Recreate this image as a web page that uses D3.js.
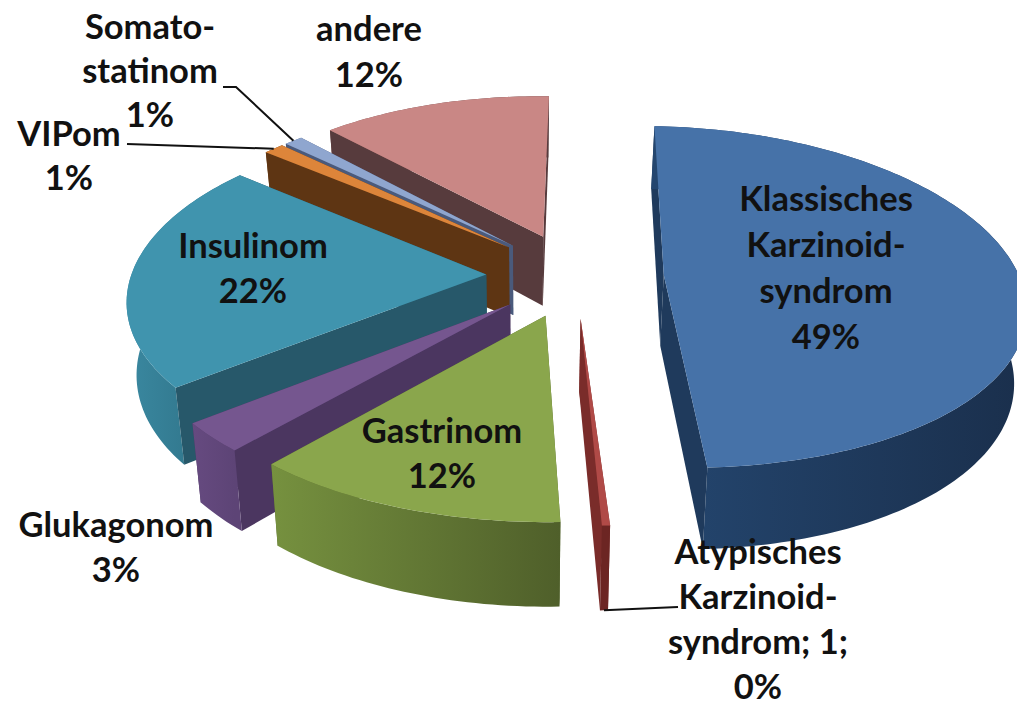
<!DOCTYPE html>
<html>

<head>
  <meta charset='utf-8'>
  <title>Neuroendokrine Tumoren</title>
  <script src="https://cdnjs.cloudflare.com/ajax/libs/d3/7.8.5/d3.min.js"></script>
  <style>
    html, body { margin: 0; padding: 0; background: #fff; overflow: hidden; }
    text { font-family: Lato, "Open Sans", sans-serif; font-weight: 700; fill: #111; }
  </style>
</head>

<body>
  <svg width="1017" height="706" id="mySVG"></svg>
  <script>
    // values (percent, small ones estimated)
    const categories = ['Klassisches Karzinoid-syndrom', 'Atypisches Karzinoid-syndrom', 'Gastrinom', 'Glukagonom', 'Insulinom', 'VIPom', 'Somatostatinom', 'andere'];
    const values = [48.7, 0.3, 12, 2.8, 21.7, 1.1, 1, 12.4];
    const labelLines = [
      ['Klassisches', 'Karzinoid-', 'syndrom', '49%'],
      ['Atypisches', 'Karzinoid-', 'syndrom; 1;', '0%'],
      ['Gastrinom', '12%'],
      ['Glukagonom', '3%'],
      ['Insulinom', '22%'],
      ['VIPom', '1%'],
      ['Somato-', 'statinom', '1%'],
      ['andere', '12%']
    ];

    const topColors = ['#4672a8', '#b04a47', '#8aa64c', '#75568f', '#4094ae', '#dd853a', '#8fa6cf', '#c98785'];
    const wallColors = ['#1f3a5c', '#7a2c2a', '#55662c', '#4b3660', '#27586a', '#5e3513', '#4a5a7c', '#573b3d'];
    const outerFrom = ['#24466f', '#6c2523', '#76913f', '#664a80', '#3a88a0', '#7a4a1e', '#6078a0', '#8a5c5c'];
    const outerTo = ['#1a2f4c', '#6c2523', '#4f5f2a', '#5d4476', '#2c6c80', '#5e3513', '#4a5a7c', '#573b3d'];

    // label centre (x, first line y), apart from the data
    const labelPos = [[826, 200], [758, 553], [442, 432], [116, 526], [253, 247], [69, 135], [150, 28], [369, 30]];
    const lineHeight = [46, 45, 45, 45, 45, 44, 44, 46];

    // fake 3d projection of the pie plane
    const cx = 575, cy = 275, rx = 355, ry = 168;
    const px = 0.15, py = 0.13;
    const shear = 8.5;
    const explode = 0.25;
    const depth = 71;
    const vanishX = 525;

    function project(X, Z, low) {
      let x = cx + X * rx / (1 + px * Z) - shear * Z;
      const wy = 1 + py * Z;
      let y = cy - Z * ry / wy;
      if (low) {
        x = vanishX + (x - vanishX) * 0.975;
        y += depth / wy;
      }
      return [x, y];
    }

    const pie = d3.pie().sort(null)
      .startAngle(2 * Math.PI / 180)
      .endAngle(362 * Math.PI / 180);
    const arcs = pie(values);

    function slicePoint(d, a, r, low) {
      const mid = (d.startAngle + d.endAngle) / 2;
      const X = explode * Math.sin(mid) + r * Math.sin(a);
      const Z = explode * Math.cos(mid) + r * Math.cos(a);
      return project(X, Z, low);
    }

    function arcAngles(d) {
      const n = Math.max(2, Math.ceil((d.endAngle - d.startAngle) / 0.02));
      return d3.range(n + 1).map(i => d.startAngle + (d.endAngle - d.startAngle) * i / n);
    }

    const svg = d3.select('#mySVG');
    const defs = svg.append('defs');
    const line = d3.line().curve(d3.curveLinear);

    // back to front
    const drawOrder = [7, 6, 5, 4, 3, 2, 1, 0];

    drawOrder.forEach(i => {
      const d = arcs[i];
      const angles = arcAngles(d);
      const g = svg.append('g').attr('class', 'slice');

      const topEdge = angles.map(a => slicePoint(d, a, 1, false));
      const lowEdge = angles.map(a => slicePoint(d, a, 1, true));
      const apexTop = slicePoint(d, 0, 0, false);
      const apexLow = slicePoint(d, 0, 0, true);

      const grad = defs.append('linearGradient')
        .attr('id', 'outer' + i)
        .attr('gradientUnits', 'userSpaceOnUse')
        .attr('x1', d3.min(topEdge, p => p[0])).attr('y1', 0)
        .attr('x2', d3.max(topEdge, p => p[0])).attr('y2', 0);
      grad.append('stop').attr('offset', 0).attr('stop-color', outerFrom[i]);
      grad.append('stop').attr('offset', 1).attr('stop-color', outerTo[i]);

      // side faces, farthest first
      const faces = [
        { pts: [apexTop, topEdge[0], lowEdge[0], apexLow], fill: wallColors[i] },
        { pts: [apexTop, topEdge[topEdge.length - 1], lowEdge[lowEdge.length - 1], apexLow], fill: wallColors[i] },
        { pts: topEdge.concat(lowEdge.slice().reverse()), fill: 'url(#outer' + i + ')' }
      ];
      faces.sort((a, b) => d3.mean(a.pts, p => p[1]) - d3.mean(b.pts, p => p[1]));
      faces.forEach(f => {
        g.append('path').attr('d', line(f.pts) + 'Z').attr('fill', f.fill);
      });

      g.append('path')
        .attr('d', line([apexTop].concat(topEdge)) + 'Z')
        .attr('fill', topColors[i]);
    });

    // leader lines for the three small slices, from the label to the slice rim
    const leaders = [
      { slice: 6, from: [[223, 87], [236, 87]], low: false },
      { slice: 5, from: [[127, 144]], low: false },
      { slice: 1, from: [[678, 607]], low: true }
    ];
    leaders.forEach(l => {
      const d = arcs[l.slice];
      const end = slicePoint(d, (d.startAngle + d.endAngle) / 2, 1, l.low);
      svg.append('path')
        .attr('d', line(l.from.concat([end])))
        .attr('fill', 'none')
        .attr('stroke', '#111')
        .attr('stroke-width', 2);
    });

    // data labels
    labelLines.forEach((lines, i) => {
      const t = svg.append('text')
        .attr('text-anchor', 'middle')
        .attr('font-size', 34.5);
      t.selectAll('tspan').data(lines).join('tspan')
        .attr('x', labelPos[i][0])
        .attr('y', (s, k) => labelPos[i][1] + k * lineHeight[i] + 11)
        .text(s => s);
    });
  </script>
</body>

</html>
